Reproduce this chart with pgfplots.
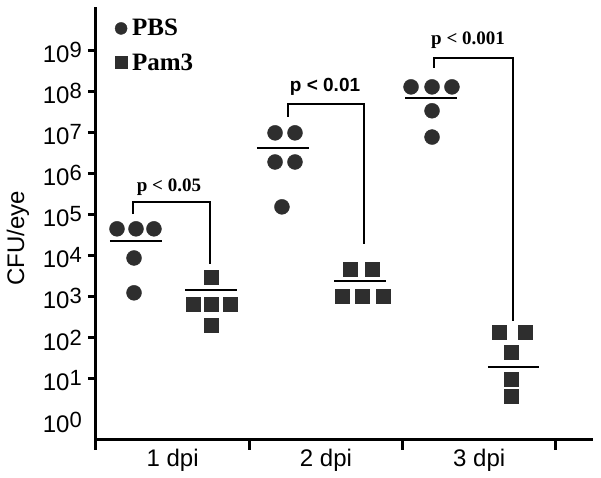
\documentclass[border=0pt]{standalone}
\usepackage{fontspec}
\setmainfont{Liberation Sans}
\newfontfamily\tnr{Liberation Serif}
\usepackage{pgfplots}
\pgfplotsset{compat=1.18}
\definecolor{pg}{HTML}{2E2E2E}
\newcommand\tp[1]{10\raisebox{5pt}{\fontsize{22}{22}\selectfont #1}}

\begin{document}
\begin{tikzpicture}
\begin{axis}[
  name=ax,
  scale only axis,
  width=497pt, height=432pt,
  xmin=0, xmax=3.242,
  ymode=log, ymin=0.344, ymax=1.17e10,
  clip=false,
  axis lines=left,
  axis line style={line width=3pt, -},
  xtick={0.5,1.5,2.5},
  xticklabels={1 dpi,2 dpi,3 dpi},
  xtick style={draw=none},
  ytick={10,100,1000,1e4,1e5,1e6,1e7,1e8,1e9},
  yticklabels={\tp{1},\tp{2},\tp{3},\tp{4},\tp{5},\tp{6},\tp{7},\tp{8},\tp{9}},
  extra y ticks={1},
  extra y tick labels={\tp{0}},
  extra y tick style={ytick style={draw=none}},
  yminorticks=false,
  tick align=outside,
  major tick length=8pt,
  ytick style={line width=3pt, black},
  ticklabel style={font=\fontsize{24}{24}\selectfont},
  yticklabel style={inner sep=0pt, xshift=-6pt, yshift=-2pt},
  xticklabel style={inner sep=0pt, yshift=-2pt},
  ylabel={CFU/eye},
  ylabel style={font=\fontsize{24}{24}\selectfont, at={(axis description cs:-0.157,0.465)}, anchor=center},
  legend style={at={(axis description cs:0.032,0.981)}, anchor=north west, draw=none, fill=none,
    font=\tnr\bfseries\fontsize{25}{25}\selectfont, row sep=12pt, column sep=3pt,
    nodes={inner sep=2pt}},
  legend cell align=left,
  legend image code/.code={\draw[#1, mark size=6pt] plot coordinates {(0pt,0pt)};},
]
% PBS
\addplot[only marks, mark=*, mark size=7.5pt, mark options={fill=pg, draw=pg}] coordinates {
  (0.137,4.57e4) (0.261,4.57e4) (0.378,4.57e4) (0.248,8.9e3) (0.248,1.26e3)
  (1.168,1.0e7) (1.298,1.0e7) (1.168,1.95e6) (1.298,1.95e6) (1.213,1.57e5)
  (2.055,1.32e8) (2.192,1.32e8) (2.322,1.32e8) (2.192,3.45e7) (2.192,7.9e6)
};
\addlegendentry{PBS}
% Pam3
\addplot[only marks, mark=square*, mark size=7pt, mark options={fill=pg, draw=pg}] coordinates {
  (0.750,3.09e3) (0.633,676) (0.750,676) (0.874,676) (0.750,209)
  (1.657,4.8e3) (1.800,4.8e3) (1.605,1.05e3) (1.735,1.05e3) (1.872,1.05e3)
  (2.629,140) (2.798,140) (2.707,45.6) (2.707,10) (2.707,3.85)
};
\addlegendentry{Pam3}
% means
\addplot[forget plot, line width=2.5pt] coordinates {(0.091,2.34e4) (0.431,2.34e4)};
\addplot[forget plot, line width=2.5pt] coordinates {(0.581,1.48e3) (0.920,1.48e3)};
\addplot[forget plot, line width=2.5pt] coordinates {(1.050,4.3e6) (1.389,4.3e6)};
\addplot[forget plot, line width=2.5pt] coordinates {(1.553,2.45e3) (1.892,2.45e3)};
\addplot[forget plot, line width=2.5pt] coordinates {(2.016,7.1e7) (2.355,7.1e7)};
\addplot[forget plot, line width=2.5pt] coordinates {(2.557,19.6) (2.890,19.6)};
% brackets
\addplot[forget plot, line width=2pt] coordinates {(0.241,1.05e5) (0.241,2.09e5) (0.744,2.09e5) (0.744,6.3e3)};
\addplot[forget plot, line width=2pt] coordinates {(1.252,2.45e7) (1.252,5.1e7) (1.748,5.1e7) (1.748,1.95e4)};
\addplot[forget plot, line width=2pt] coordinates {(2.205,3.9e8) (2.205,6.8e8) (2.720,6.8e8) (2.720,257)};
\node[font=\tnr\bfseries\fontsize{19}{19}\selectfont] at (axis cs:0.476,4.8e5) {p < 0.05};
\node[font=\bfseries\fontsize{19}{19}\selectfont] at (axis cs:1.494,1.32e8) {p < 0.01};
\node[font=\tnr\bfseries\fontsize{19}{19}\selectfont] at (axis cs:2.427,1.86e9) {p < 0.001};
% category boundary ticks
\draw[line width=3pt] (rel axis cs:0,0) -- ++(0pt,-11pt);
\draw[line width=3pt] (rel axis cs:0.30845,0) -- ++(0pt,-11pt);
\draw[line width=3pt] (rel axis cs:0.6169,0) -- ++(0pt,-11pt);
\draw[line width=3pt] (rel axis cs:0.92536,0) -- ++(0pt,-11pt);
\end{axis}
\pgfresetboundingbox
\path[use as bounding box] (ax.south west) ++(-96pt,-39pt) rectangle ++(601pt,478pt);
\end{tikzpicture}
\end{document}
